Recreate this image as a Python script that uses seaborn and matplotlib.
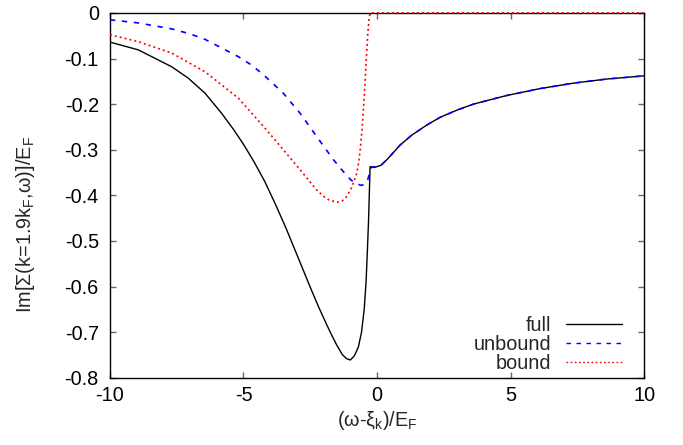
import numpy as np
import pandas as pd
import matplotlib
matplotlib.use("Agg")
import matplotlib.pyplot as plt
import seaborn as sns

# ---- data ----
full_x = [-10, -8.94, -7.69, -7.07, -6.44, -5.82, -5.38, -5.0, -4.6, -4.2, -3.8, -3.4, -3.0,
          -2.51, -2.2, -1.88, -1.7, -1.51, -1.3, -1.14, -1.0, -0.85, -0.7, -0.58, -0.48, -0.41,
          -0.36, -0.32, -0.29, -0.27, -0.26, -0.1, 0.0, 0.15, 0.4, 0.86, 1.3, 1.86, 2.36, 3.0,
          3.61, 4.86, 6.1, 7.35, 8.6, 10]
full_y = [-0.064, -0.081, -0.118, -0.143, -0.176, -0.220, -0.255, -0.288, -0.327, -0.370, -0.420,
          -0.473, -0.530, -0.600, -0.643, -0.684, -0.706, -0.728, -0.749, -0.758, -0.761, -0.752,
          -0.733, -0.700, -0.650, -0.590, -0.520, -0.460, -0.400, -0.360, -0.337, -0.339, -0.337,
          -0.334, -0.320, -0.290, -0.268, -0.246, -0.229, -0.213, -0.200, -0.181, -0.166, -0.154,
          -0.145, -0.138]

unbound_x = [-10, -8.94, -7.69, -7.0, -6.44, -5.19, -4.76, -4.32, -3.51, -2.88, -2.26, -1.63,
             -1.26, -1.0, -0.8, -0.6, -0.45, -0.35, -0.28, -0.24, -0.2, 0.0, 0.15, 0.4, 0.86,
             1.3, 1.86, 2.36, 3.0, 3.61, 4.86, 6.1, 7.35, 8.6, 10]
unbound_y = [-0.015, -0.022, -0.035, -0.046, -0.058, -0.096, -0.112, -0.132, -0.176, -0.220,
             -0.271, -0.322, -0.348, -0.365, -0.374, -0.378, -0.376, -0.366, -0.352, -0.343,
             -0.338, -0.337, -0.334, -0.320, -0.290, -0.268, -0.246, -0.229, -0.213, -0.200,
             -0.181, -0.166, -0.154, -0.145, -0.138]

bound_x = [-10, -8.94, -7.69, -6.44, -5.19, -4.13, -3.51, -2.88, -2.26, -2.0, -1.8, -1.5, -1.3,
           -1.14, -0.95, -0.76, -0.68, -0.62, -0.56, -0.5, -0.45, -0.40, -0.35, -0.30, -0.26, 10]
bound_y = [-0.048, -0.063, -0.088, -0.129, -0.187, -0.257, -0.300, -0.344, -0.388, -0.402, -0.410,
           -0.415, -0.412, -0.403, -0.383, -0.352, -0.325, -0.295, -0.255, -0.205, -0.155, -0.100,
           -0.050, -0.015, 0.0, 0.0]

series_names = ["full", "unbound", "bound"]
x_ticks = [-10, -5, 0, 5, 10]
y_ticks = [0, -0.1, -0.2, -0.3, -0.4, -0.5, -0.6, -0.7, -0.8]

sns.set_theme(style="ticks")
plt.rcParams["font.family"] = ["Liberation Sans", "DejaVu Sans"]
plt.rcParams["mathtext.fontset"] = "custom"
plt.rcParams["mathtext.rm"] = "Liberation Sans"
plt.rcParams["mathtext.it"] = "Liberation Sans"
plt.rcParams["mathtext.default"] = "regular"

FS = 14.3
fig, ax = plt.subplots(figsize=(6.83, 4.45), dpi=100)
fig.subplots_adjust(left=0.161, right=0.943, top=0.971, bottom=0.151)

sns.lineplot(x=full_x, y=full_y, ax=ax, color="black", lw=1.0, sort=False,
             estimator=None, label=series_names[0], zorder=3)
sns.lineplot(x=unbound_x, y=unbound_y, ax=ax, color="#0000ff", lw=1.2, sort=False,
             estimator=None, label=series_names[1], zorder=4, dashes=False)
sns.lineplot(x=bound_x, y=bound_y, ax=ax, color="#ff0000", lw=1.2, sort=False,
             estimator=None, label=series_names[2], zorder=5, dashes=False)

lines = ax.get_lines()
lines[1].set_dashes([3.2, 4.0])
lines[2].set_dashes([1.2, 1.8])
lines[2].set_clip_on(False)

ax.set_xlim(-10, 10)
ax.set_ylim(-0.8, 0)
ax.set_xticks(x_ticks)
ax.set_xticklabels([f"{t:g}" for t in x_ticks])
ax.set_yticks(y_ticks)
ax.set_yticklabels([f"{t:g}" for t in y_ticks])
ax.tick_params(direction="in", length=4.3, width=1, colors="#666666", labelcolor="black",
               labelsize=FS, top=True, right=True)
ax.tick_params(axis="y", pad=8)
ax.tick_params(axis="x", pad=6)
for s in ax.spines.values():
    s.set_visible(True)
    s.set_color("black")
    s.set_linewidth(1.0)

ax.set_xlabel(r"(ω-ξ$_{k}$)/E$_{F}$", fontsize=FS, labelpad=3)
ax.set_ylabel(r"Im[Σ(k=1.9k$_{F}$,ω)]/E$_{F}$", fontsize=FS)
ax.yaxis.set_label_coords(-0.137, 0.42)

leg = ax.legend(loc="lower right", frameon=False, markerfirst=False, fontsize=FS,
                handlelength=2.8, labelspacing=0.0, borderpad=0.0, borderaxespad=0.0,
                handletextpad=0.75, bbox_to_anchor=(0.958, 0.012))
for lh in leg.get_lines():
    lh.set_linewidth(1.0)

fig.savefig("out.png", dpi=100)
